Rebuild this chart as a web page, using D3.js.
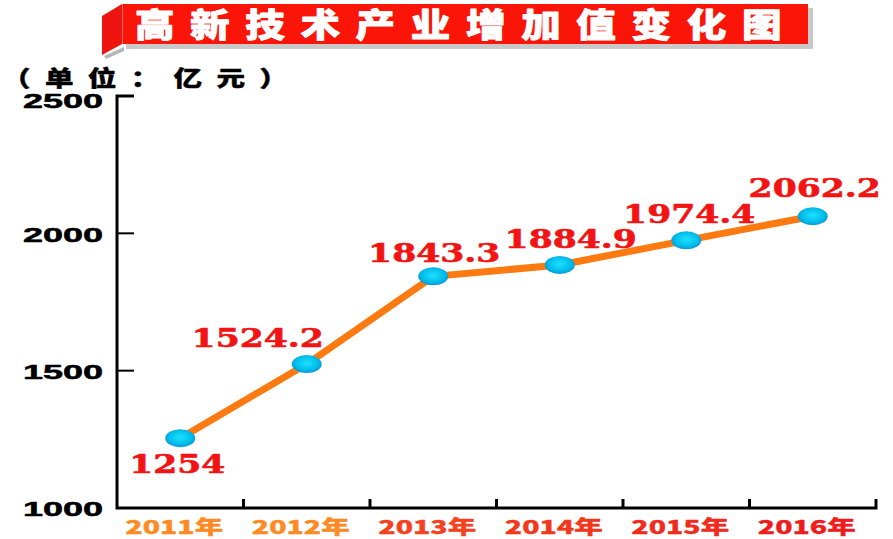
<!DOCTYPE html>
<html><head><meta charset="utf-8">
<script src="https://cdn.jsdelivr.net/npm/d3@7"></script>
<style>html,body{margin:0;padding:0;background:#fff;}</style>
</head><body>
<svg id="c" width="893" height="539"></svg>
<script>
const titleText = "高新技术产业增加值变化图";
const unitText = "（单位：亿元）";
const years = ["2011年","2012年","2013年","2014年","2015年","2016年"];
const values = [1254, 1524.2, 1843.3, 1884.9, 1974.4, 2062.2];
const valueLabels = ["1254","1524.2","1843.3","1884.9","1974.4","2062.2"];
const yTicks = [1000, 1500, 2000, 2500];
const yearColors = ["#fd8a23","#fd8a23","#f3421d","#f2381c","#f02a1d","#ee1c1c"];
// label placement: [dx, dy] relative to the point
const labelOffsets = [[-3,35],[-49,-17],[1,-14],[11,-17],[3,-17],[2,-19]];

const svg = d3.select("#c");
const x = d3.scaleBand().domain(years).range([117, 876]);
const y = d3.scaleLinear().domain([1000, 2500]).range([508, 96]);

function stretchText(parent, px, py, txt, opts) {
  const g = parent.append("g").attr("transform", `translate(${px},${py})`);
  const t = g.append("text")
    .attr("transform", `scale(${opts.sx||1},1)`)
    .attr("text-anchor", opts.anchor||"middle")
    .attr("font-family", opts.family)
    .attr("font-weight", opts.weight||"bold")
    .attr("font-size", opts.size)
    .attr("fill", opts.fill||"#000")
    .text(txt);
  if (opts.dy) t.attr("dy", opts.dy);
  if (opts.ls) t.attr("letter-spacing", opts.ls);
  if (opts.sw) t.attr("stroke", opts.fill||"#000").attr("stroke-width", opts.sw).attr("stroke-linejoin","round");
  return t;
}

// Title banner
const banner = svg.append("g");
banner.append("rect").attr("x",126).attr("y",8).attr("width",687).attr("height",41).attr("fill","#c9c9c9");
banner.append("polygon").attr("points","104,56 124,47 124,51 106,59").attr("fill","#b5b5b5");
banner.append("polygon").attr("points","102,16 122,4 122,44 102,55").attr("fill","#ee1410");
banner.append("rect").attr("x",122).attr("y",4).attr("width",686).attr("height",40).attr("fill","#fb1408");
banner.append("line").attr("x1",122.5).attr("x2",122.5).attr("y1",4).attr("y2",44).attr("stroke","#ff6a60").attr("stroke-width",1);
stretchText(banner, 466, 37, titleText, {family:"'Noto Sans CJK SC'", size:33, sx:1.2, fill:"#fff", weight:"900", ls:"13px", sw:0.8});

// Unit label
stretchText(svg, 2, 86, unitText, {family:"'Noto Sans CJK SC'", size:22, sx:1.3, fill:"#000", weight:"900", ls:"11px", sw:0.4, anchor:"start"});

// Axes
const ax = svg.append("g").attr("stroke","#000").attr("stroke-width",3).attr("fill","none");
const x0 = x.range()[0], x1 = x.range()[1];
ax.append("path").attr("d", `M${x0+17},${y(2500)} H${x0} V${y(1000)} H${x1} V${y(1000)-9}`).attr("stroke-linecap","butt");
yTicks.filter(v => v>1000 && v<2500).forEach(v => {
  ax.append("line").attr("x1",x0).attr("x2",x0+17).attr("y1",y(v)).attr("y2",y(v)).attr("stroke-width",2);
});
years.slice(0,-1).forEach(yr => {
  const xx = x(yr) + x.bandwidth();
  ax.append("line").attr("x1",xx).attr("x2",xx).attr("y1",y(1000)).attr("y2",y(1000)-9);
});

// Y tick labels
yTicks.forEach(v => {
  const off = v === 2500 ? 5 : 1;
  stretchText(svg, 103, y(v)+off, String(v), {family:"'Liberation Sans'", size:20, sx:1.8, anchor:"end", dy:"0.36em", weight:"900", sw:0.5});
});

// X labels
years.forEach((yr,i) => {
  stretchText(svg, x(yr)+x.bandwidth()/2-6, 534, yr, {family:"'Noto Sans CJK SC'", size:19, sx:1.5, fill:yearColors[i], weight:"900", sw:0.3});
});

// Line
const cx = (d,i) => x(years[i]) + x.bandwidth()/2;
const line = d3.line().x((d,i)=>cx(d,i)).y(d=>y(d));
svg.append("path").datum(values).attr("d", line).attr("fill","none").attr("stroke","#fc7a10").attr("stroke-width",7).attr("stroke-linejoin","round");

// Points
const defs = svg.append("defs");
const grad = defs.append("radialGradient").attr("id","pt").attr("cx","50%").attr("cy","45%").attr("r","60%");
grad.append("stop").attr("offset","0%").attr("stop-color","#20e0ff");
grad.append("stop").attr("offset","60%").attr("stop-color","#00c0ec");
grad.append("stop").attr("offset","100%").attr("stop-color","#0f8cd0");
svg.selectAll("ellipse.pt").data(values).enter().append("ellipse")
  .attr("class","pt").attr("cx",cx).attr("cy",d=>y(d)).attr("rx",15).attr("ry",9)
  .attr("fill","url(#pt)");

// Value labels
values.forEach((v,i) => {
  stretchText(svg, cx(v,i)+labelOffsets[i][0], y(v)+labelOffsets[i][1], valueLabels[i],
    {family:"'DejaVu Serif'", size:26, sx:1.33, fill:"#f21414", weight:"bold", sw:0.6});
});
</script>
</body></html>
